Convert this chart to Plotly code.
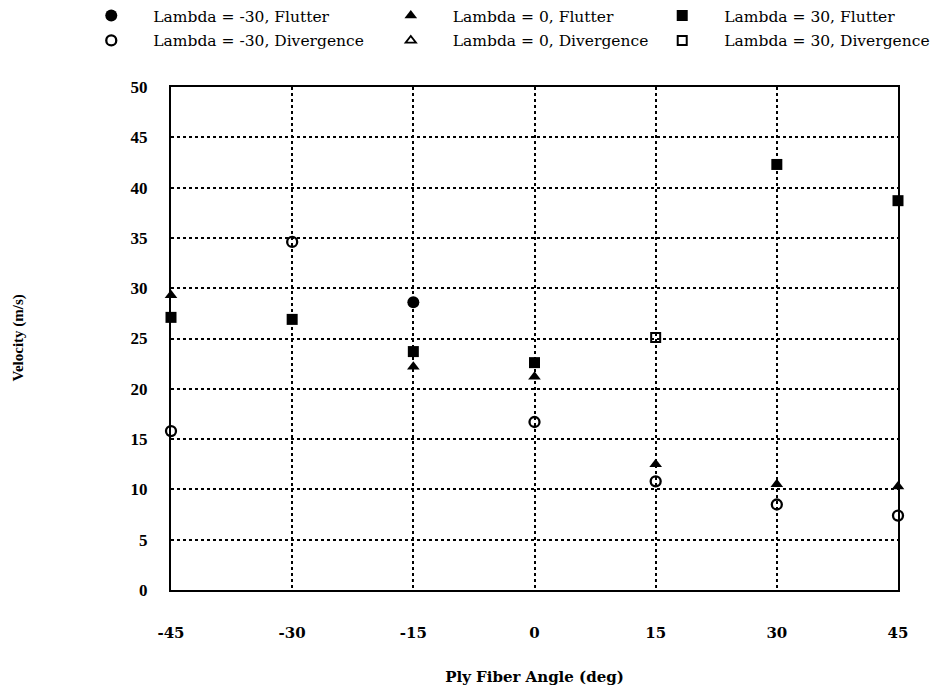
import plotly.graph_objects as go

# Ply fiber angle (deg) and critical velocity (m/s) per sweep angle
neg30_flutter_x = [-15]
neg30_flutter_v = [28.6]

zero_flutter_x = [-45, -15, 0, 15, 30, 45]
zero_flutter_v = [29.3, 22.2, 21.2, 12.5, 10.5, 10.3]

pos30_flutter_x = [-45, -30, -15, 0, 30, 45]
pos30_flutter_v = [27.1, 26.9, 23.7, 22.6, 42.3, 38.7]

neg30_div_x = [-45, -30, 0, 15, 30, 45]
neg30_div_v = [15.8, 34.6, 16.7, 10.8, 8.5, 7.4]

zero_div_x = []
zero_div_v = []

pos30_div_x = [15]
pos30_div_v = [25.1]

x_ticks = [-45, -30, -15, 0, 15, 30, 45]
y_ticks = [0, 5, 10, 15, 20, 25, 30, 35, 40, 45, 50]

SERIF = "Liberation Serif"
WIDE_SERIF = "DejaVu Serif"
BLACK = "#000000"

# (name, x, y, marker, legend column left edge, legend row centre) in container fractions
series = [
    ("Lambda = -30, Flutter", neg30_flutter_x, neg30_flutter_v,
     dict(symbol="circle", size=12, color=BLACK), 0.074, 0.977),
    ("Lambda = 0, Flutter", zero_flutter_x, zero_flutter_v,
     dict(symbol="triangle-up", size=11, color=BLACK), 0.394, 0.977),
    ("Lambda = 30, Flutter", pos30_flutter_x, pos30_flutter_v,
     dict(symbol="square", size=11, color=BLACK), 0.684, 0.977),
    ("Lambda = -30, Divergence", neg30_div_x, neg30_div_v,
     dict(symbol="circle-open", size=10, color=BLACK, line=dict(width=2.3, color=BLACK)), 0.074, 0.941),
    ("Lambda = 0, Divergence", zero_div_x, zero_div_v,
     dict(symbol="triangle-up-open", size=9, color=BLACK, line=dict(width=1.8, color=BLACK)), 0.394, 0.941),
    ("Lambda = 30, Divergence", pos30_div_x, pos30_div_v,
     dict(symbol="square-open", size=9, color=BLACK, line=dict(width=2, color=BLACK)), 0.684, 0.941),
]

fig = go.Figure()
legends = {}
for i, (name, xs, vs, marker, lx, ly) in enumerate(series):
    key = "legend" if i == 0 else f"legend{i + 1}"
    # a series with no points keeps its legend entry through a single null point
    fig.add_trace(go.Scatter(
        x=xs if xs else [None], y=vs if vs else [None],
        mode="markers", name=name, marker=marker,
        legend=key, cliponaxis=False,
    ))
    legends[key] = dict(
        orientation="v",
        x=lx, y=ly,
        xanchor="left", yanchor="middle",
        xref="container", yref="container",
        font=dict(family=WIDE_SERIF, size=15.5, color=BLACK),
        bgcolor="rgba(0,0,0,0)",
        itemwidth=74,
    )

fig.update_layout(
    width=936,
    height=692,
    paper_bgcolor="white",
    plot_bgcolor="white",
    margin=dict(l=171, r=38, t=87, b=102, autoexpand=False),
    font=dict(family=SERIF, size=15, color=BLACK),
    showlegend=True,
    **legends,
    xaxis=dict(
        range=[-45, 45],
        tickvals=x_ticks,
        ticktext=[f"<b>{t}</b>" for t in x_ticks],
        showgrid=True,
        gridcolor=BLACK,
        griddash="dot",
        gridwidth=1.5,
        zeroline=False,
        showline=True,
        linecolor=BLACK,
        linewidth=2,
        mirror=True,
        ticks="",
        ticklabelstandoff=28,
        tickfont=dict(family=WIDE_SERIF, size=15, color=BLACK),
        title=dict(text="<b>Ply Fiber Angle (deg)</b>", standoff=30,
                   font=dict(family=WIDE_SERIF, size=15, color=BLACK)),
    ),
    yaxis=dict(
        range=[0, 50],
        tickvals=y_ticks,
        ticktext=[f"<b>{t}</b>" for t in y_ticks],
        showgrid=True,
        gridcolor=BLACK,
        griddash="dot",
        gridwidth=1.5,
        zeroline=False,
        showline=True,
        linecolor=BLACK,
        linewidth=2,
        mirror=True,
        ticks="",
        ticklabelstandoff=18,
        tickfont=dict(family=SERIF, size=17, color=BLACK),
    ),
    annotations=[dict(
        text="<b>Velocity (m/s)</b>",
        textangle=-90,
        xref="paper", yref="paper",
        x=(18 - 171) / 727, y=0.5,
        xanchor="center", yanchor="middle",
        showarrow=False,
        font=dict(family=SERIF, size=15, color=BLACK),
    )],
)

fig.write_html("out.html")
